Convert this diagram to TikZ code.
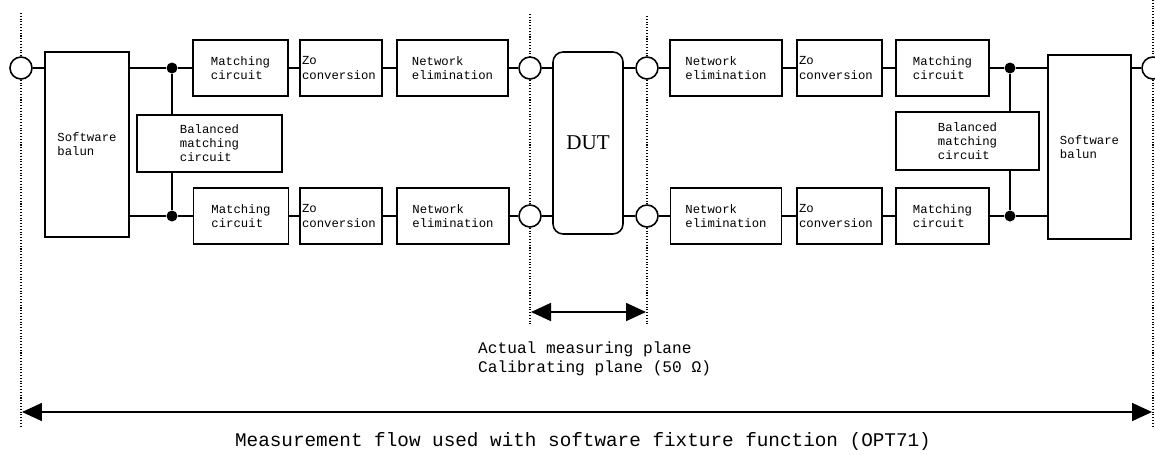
\documentclass[tikz,border=0pt]{standalone}
\usepackage{fontspec}
\setmainfont{Liberation Serif}
\setmonofont{Liberation Mono}
\usetikzlibrary{arrows.meta}

\begin{document}
\begin{tikzpicture}[
    x=0.02cm, y=-0.02cm,
    blk/.style={draw, line width=0.9pt, minimum height=1.12cm, align=left, inner sep=1pt, font=\ttfamily\fontsize{7}{8}\selectfont},
    zoblk/.style={blk, inner xsep=0.04cm},
    port/.style={draw, circle, line width=0.9pt, minimum size=0.44cm, inner sep=0pt},
    jdot/.style={circle, fill, minimum size=0.22cm, inner sep=0pt},
    wire/.style={line width=0.9pt},
    plane/.style={densely dotted, line width=0.6pt},
    span/.style={line width=1pt, {Triangle[length=0.4cm,width=0.36cm]}-{Triangle[length=0.4cm,width=0.36cm]}}
]
  \useasboundingbox (0,0) rectangle (1155,454);

  % Left half
  \node[port] (portL) at (21,68) {};
  \node[blk, minimum width=1.68cm, minimum height=3.7cm] (balunL) at (87,144.5) {Software\\balun};
  \node[jdot] (jTL) at (172,68) {};
  \node[jdot] (jBL) at (172,216) {};
  \node[blk, minimum width=2.9cm, minimum height=1.14cm] (balmL) at (209.5,143.5) {Balanced\\matching\\circuit};
  \node[blk, minimum width=1.9cm] (matchTL) at (240.5,68) {Matching\\circuit};
  \node[zoblk, text width=1.56cm] (zoTL) at (341,68) {Zo\\conversion};
  \node[blk, minimum width=2.22cm] (netTL) at (452.5,68) {Network\\elimination};
  \node[blk, minimum width=1.9cm] (matchBL) at (241,216) {Matching\\circuit};
  \node[zoblk, text width=1.56cm] (zoBL) at (341,216) {Zo\\conversion};
  \node[blk, minimum width=2.24cm] (netBL) at (453,216) {Network\\elimination};
  \node[port] (cTL) at (530,68) {};
  \node[port] (cBL) at (530,216) {};

  % DUT
  \node[draw, rounded corners=0.2cm, line width=0.9pt, minimum width=1.4cm, minimum height=3.64cm,
        font=\fontsize{12}{14}\selectfont] (dut) at (588,143) {DUT};

  % Right half
  \node[port] (cTR) at (647,68) {};
  \node[port] (cBR) at (647,216) {};
  \node[blk, minimum width=2.24cm] (netTR) at (726,68) {Network\\elimination};
  \node[zoblk, text width=1.62cm] (zoTR) at (839.5,68) {Zo\\conversion};
  \node[blk, minimum width=1.86cm] (matchTR) at (942.5,68) {Matching\\circuit};
  \node[blk, minimum width=2.22cm] (netBR) at (726,216) {Network\\elimination};
  \node[zoblk, text width=1.62cm] (zoBR) at (839.5,216) {Zo\\conversion};
  \node[blk, minimum width=1.86cm] (matchBR) at (942.5,216) {Matching\\circuit};
  \node[blk, minimum width=2.86cm, minimum height=1.16cm] (balmR) at (967.5,141) {Balanced\\matching\\circuit};
  \node[jdot] (jTR) at (1010,68) {};
  \node[jdot] (jBR) at (1010,216) {};
  \node[blk, minimum width=1.66cm, minimum height=3.68cm] (balunR) at (1089.5,147) {Software\\balun};
  \node[port] (portR) at (1153,68) {};

  % signal paths
  \draw[wire] (portL) -- (portL -| balunL.west);
  \draw[wire] (balunL.east |- jTL) -- (jTL) -- (matchTL) -- (zoTL) -- (netTL) -- (cTL) -- (cTL -| dut.west);
  \draw[wire] (balunL.east |- jBL) -- (jBL) -- (matchBL) -- (zoBL) -- (netBL) -- (cBL) -- (cBL -| dut.west);
  \draw[wire] (jTL) -- (jTL |- balmL.north);
  \draw[wire] (jBL) -- (jBL |- balmL.south);
  \draw[wire] (cTR -| dut.east) -- (cTR) -- (netTR) -- (zoTR) -- (matchTR) -- (jTR) -- (jTR -| balunR.west);
  \draw[wire] (cBR -| dut.east) -- (cBR) -- (netBR) -- (zoBR) -- (matchBR) -- (jBR) -- (jBR -| balunR.west);
  \draw[wire] (jTR) -- (jTR |- balmR.north);
  \draw[wire] (jBR) -- (jBR |- balmR.south);
  \draw[wire] (balunR.east |- portR) -- (portR);

  % reference planes
  \coordinate (pLtop) at (21,13);
  \coordinate (pLbot) at (21,426);
  \coordinate (mLtop) at (530,14);
  \coordinate (mLbot) at (530,326);
  \coordinate (mRtop) at (647,16);
  \coordinate (mRbot) at (647,326);
  \coordinate (pRtop) at (1153,0);
  \coordinate (pRbot) at (1153,426);
  \draw[plane] (pLtop) -- (portL.north) (portL.south) -- (pLbot);
  \draw[plane] (mLtop) -- (cTL.north) (cTL.south) -- (cBL.north) (cBL.south) -- (mLbot);
  \draw[plane] (mRtop) -- (cTR.north) (cTR.south) -- (cBR.north) (cBR.south) -- (mRbot);
  \draw[plane] (pRtop) -- (portR.north) (portR.south) -- (pRbot);

  % spans
  \coordinate (dutl) at (531,312);
  \coordinate (dutr) at (646,312);
  \draw[span] (dutl) -- (dutr);
  \coordinate (flowl) at (22,412);
  \coordinate (flowr) at (1152,412);
  \draw[span] (flowl) -- (flowr);

  \node[anchor=west, align=left, font=\ttfamily\fontsize{9.2}{10.8}\selectfont] (planes) at (472,359)
    {Actual measuring plane\\Calibrating plane (50 Ω)};
  \node[font=\ttfamily\fontsize{11}{13}\selectfont] (flow) at (583,441)
    {Measurement flow used with software fixture function (OPT71)};
\end{tikzpicture}
\end{document}
